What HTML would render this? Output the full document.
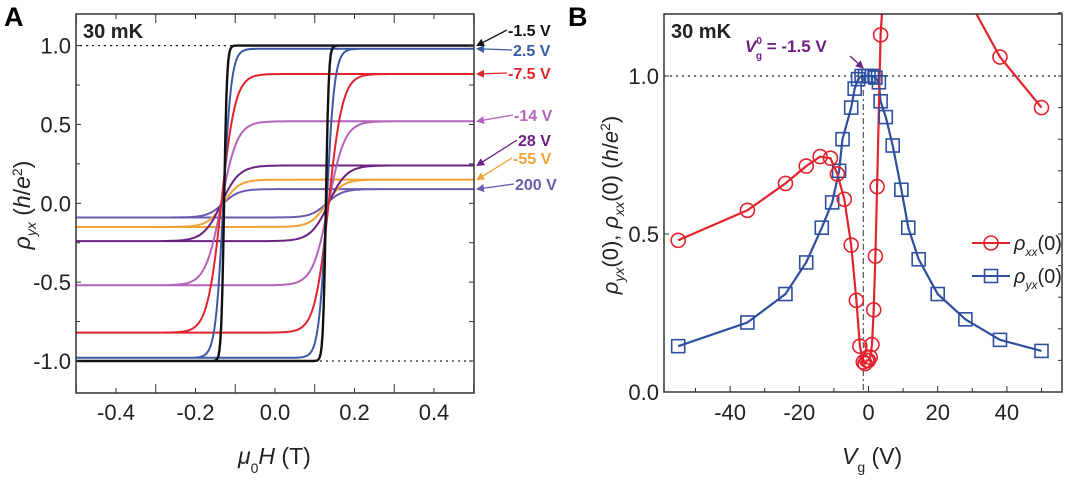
<!DOCTYPE html>
<html><head><meta charset="utf-8">
<style>
html,body{margin:0;padding:0;background:#fff;}
svg{display:block;font-family:"Liberation Sans",Arial,sans-serif;}
</style></head>
<body>
<svg id="fig" width="1080" height="485" viewBox="0 0 1080 485" xmlns="http://www.w3.org/2000/svg">
<defs>
<marker id="ah" markerWidth="8" markerHeight="8" refX="7" refY="4" orient="auto" markerUnits="userSpaceOnUse"><path d="M0,0 L8,4 L0,8 z" fill="context-stroke"/></marker>
</defs>
<g id="panelA"></g>
<g id="panelB"></g>
</svg>
<script>
// ---------- Panel A data ----------
const loopLabels = ["-1.5 V","2.5 V","-7.5 V","-14 V","28 V","-55 V","200 V"];
const loopSat = [1.0, 0.98, 0.82, 0.52, 0.24, 0.15, 0.09];
const loopCoercive = [0.128, 0.13, 0.135, 0.135, 0.135, 0.13, 0.13];
const loopWidth = [0.007, 0.02, 0.035, 0.04, 0.045, 0.04, 0.04];
const loopColors = ["#111111","#3b5aa6","#e1232d","#b462bc","#6b2181","#f0a235","#6a5bb0"];
const aXTicks = [-0.4,-0.2,0.0,0.2,0.4];
const aYTicks = [-1.0,-0.5,0.0,0.5,1.0];
const aLabelY = [30,50,73,115,140,158,184];
const aLabelX = [503,508,503,509,513,508,510];

// ---------- Panel B data ----------
const rxxV = [-55,-35,-24,-18,-14,-11,-9,-7,-5,-3.5,-2.5,-1.5,-1,-0.5,0,0.5,1,1.5,2,2.5,3.5];
const rxxVal = [0.48,0.575,0.66,0.715,0.745,0.74,0.69,0.61,0.465,0.29,0.145,0.095,0.09,0.1,0.1,0.11,0.15,0.26,0.43,0.65,1.13];
const rxxRightV = [38,50];
const rxxRightVal = [1.06,0.9];
const ryxV = [-55,-35,-24,-18,-13.5,-10.5,-8.5,-7.5,-5,-4,-3,-2,-1,0,1,2,3,3.5,5,7,9.5,11.5,14.5,20,28,38,50];
const ryxVal = [0.145,0.22,0.31,0.41,0.52,0.6,0.7,0.8,0.9,0.96,0.99,1,1,1,1,0.995,0.98,0.92,0.87,0.78,0.64,0.52,0.42,0.31,0.23,0.165,0.13];
const bXTicks = [-40,-20,0,20,40];
const bYTicks = [0.0,0.5,1.0];

const NS="http://www.w3.org/2000/svg";
function mk(parent,tag,attrs,text){const e=document.createElementNS(NS,tag);for(const k in attrs)e.setAttribute(k,attrs[k]);if(text!==undefined)e.textContent=text;parent.appendChild(e);return e;}

// ===== Panel A =====
const A=document.getElementById('panelA');
const ax=h=>275+h*397.5, ay=v=>203.3-v*157.7;
mk(A,'text',{x:4,y:26,'font-size':27,'font-weight':'bold',},'A');
let e=mk(A,'line',{x1:80,x2:250,y1:ay(1),y2:ay(1),stroke:'#222','stroke-dasharray':'2,4','stroke-width':1.2});

e=mk(A,'line',{x1:320,x2:472,y1:ay(-1),y2:ay(-1),stroke:'#222','stroke-dasharray':'2,4','stroke-width':1.2});

for(let i=loopSat.length-1;i>=0;i--){
  const s=loopSat[i],hc=loopCoercive[i],w=loopWidth[i];
  let up='',dn='';
  for(let k=0;k<=400;k++){
    const h=-0.5+k/400;
    up+=(k?'L':'M')+ax(h).toFixed(1)+','+ay(s*Math.tanh((h-hc)/w)).toFixed(1);
    dn+=(k?'L':'M')+ax(h).toFixed(1)+','+ay(s*Math.tanh((h+hc)/w)).toFixed(1);
  }
  const p=mk(A,'path',{d:up+dn,fill:'none',stroke:loopColors[i],'stroke-width':i==0?2.4:2});
  
  
  const t=mk(A,'text',{x:aLabelX[i]+5,y:aLabelY[i]+6,'font-size':16,'font-weight':'bold',fill:loopColors[i]},loopLabels[i]);
  
  
  const ar=mk(A,'line',{x1:aLabelX[i]+4,y1:aLabelY[i],x2:477,y2:ay(s),stroke:loopColors[i],'stroke-width':1.3,'marker-end':'url(#ah)'});
  
  
}
e=mk(A,'rect',{x:76,y:14,width:398,height:379,fill:'none',stroke:'#333','stroke-width':1.5});

for(let k=-5;k<=5;k++){const x=ax(k/10);mk(A,'line',{x1:x,x2:x,y1:393,y2:k%2==0?388:384,stroke:'#333'});mk(A,'line',{x1:x,x2:x,y1:14,y2:k%2==0?19:23,stroke:'#333'});}
aXTicks.forEach(v=>{const t=mk(A,'text',{x:ax(v),y:420,'font-size':22,'text-anchor':'middle',fill:'#222'},v.toFixed(1));});
for(let k=-4;k<=4;k++){const y=ay(k/4);mk(A,'line',{x1:76,x2:k%2==0?81:80,y1:y,y2:y,stroke:'#333'});mk(A,'line',{x1:474,x2:469,y1:y,y2:y,stroke:'#333'});}
aYTicks.forEach(v=>{const t=mk(A,'text',{x:71,y:ay(v)+8,'font-size':22,'text-anchor':'end',fill:'#222'},v.toFixed(1));});
e=mk(A,'text',{x:83,y:38,'font-size':20,'font-weight':'bold',fill:'#222'},'30 mK');

e=mk(A,'text',{x:238,y:464,'font-size':23,fill:'#222'});
e.innerHTML='<tspan font-style="italic">μ</tspan><tspan font-size="14" dy="9">0</tspan><tspan dy="-9" font-style="italic">H</tspan> (T)';

e=mk(A,'text',{transform:'translate(30,205) rotate(-90)','font-size':23,'text-anchor':'middle',fill:'#222'});
e.innerHTML='<tspan font-style="italic">ρ</tspan><tspan font-size="14" font-style="italic" dy="6">yx</tspan><tspan dy="-6"> (</tspan><tspan font-style="italic">h</tspan>/<tspan font-style="italic">e</tspan><tspan font-size="14" dy="-8">2</tspan><tspan dy="8">)</tspan>';


// ===== Panel B =====
const B=document.getElementById('panelB');
const bx=v=>868.5+v*3.46, by=v=>392-v*316;
mk(B,'text',{x:568,y:26,'font-size':27,'font-weight':'bold',},'B');
e=mk(B,'line',{x1:664,x2:1062,y1:by(1),y2:by(1),stroke:'#222','stroke-dasharray':'2,4','stroke-width':1.2});

e=mk(B,'line',{x1:bx(-1.5),x2:bx(-1.5),y1:by(1),y2:392,stroke:'#555','stroke-dasharray':'6,3,2,3','stroke-width':1.2});

const clip=mk(B,'clipPath',{id:'cb'});mk(clip,'rect',{x:664,y:14,width:398,height:378});
const G=mk(B,'g',{'clip-path':'url(#cb)'});
function pathOf(xs,ys){return xs.map((v,i)=>(i?'L':'M')+bx(v).toFixed(1)+','+by(ys[i]).toFixed(1)).join('');}
e=mk(G,'path',{d:pathOf(ryxV,ryxVal),fill:'none',stroke:'#2e4f9e','stroke-width':2.2});

e=mk(G,'path',{d:pathOf(rxxV,rxxVal)+'L'+bx(4.2)+','+by(1.25),fill:'none',stroke:'#e1232d','stroke-width':2.2});

e=mk(G,'path',{d:'M'+bx(30)+','+by(1.22)+pathOf(rxxRightV,rxxRightVal).replace('M','L'),fill:'none',stroke:'#e1232d','stroke-width':2.2});

ryxV.forEach((v,i)=>{const r=mk(G,'rect',{x:bx(v)-6.5,y:by(ryxVal[i])-6.5,width:13,height:13,fill:'none',stroke:'#2e4f9e','stroke-width':1.6});});
rxxV.concat(rxxRightV).forEach((v,i)=>{const y=rxxVal.concat(rxxRightVal)[i];const c=mk(G,'circle',{cx:bx(v),cy:by(y),r:7,fill:'none',stroke:'#e1232d','stroke-width':1.6});});
e=mk(B,'rect',{x:664,y:14,width:398,height:378,fill:'none',stroke:'#333','stroke-width':1.5});

for(let k=-5;k<=5;k++){const x=bx(k*10);if(x<664)continue;mk(B,'line',{x1:x,x2:x,y1:392,y2:k%2==0?386:388,stroke:'#333'});}
bXTicks.forEach(v=>{const t=mk(B,'text',{x:bx(v),y:420,'font-size':22,'text-anchor':'middle',fill:'#222'},String(v));});
for(let k=0;k<=12;k++){const y=by(k/10);mk(B,'line',{x1:1062,x2:1058,y1:y,y2:y,stroke:'#333'});if(k%5==0)mk(B,'line',{x1:664,x2:669,y1:y,y2:y,stroke:'#333'});}
bYTicks.forEach(v=>{const t=mk(B,'text',{x:659,y:by(v)+8,'font-size':22,'text-anchor':'end',fill:'#222'},v.toFixed(1));});
e=mk(B,'text',{x:671,y:38,'font-size':20,'font-weight':'bold',fill:'#222'},'30 mK');

e=mk(B,'text',{x:745,y:52,'font-size':17,'font-weight':'bold',fill:'#6b2181'});
e.innerHTML='<tspan font-style="italic">V</tspan><tspan font-size="10" dy="-8">0</tspan><tspan font-size="10" dx="-6" dy="15">g</tspan><tspan dy="-7"> = -1.5 V</tspan>';

e=mk(B,'line',{x1:850,y1:56,x2:863,y2:68,stroke:'#6b2181','stroke-width':1.3,'marker-end':'url(#ah)'});

e=mk(B,'g',{});
mk(e,'line',{x1:972,x2:1010,y1:243,y2:243,stroke:'#e1232d','stroke-width':2});mk(e,'circle',{cx:991,cy:243,r:7,fill:'none',stroke:'#e1232d','stroke-width':1.6});
let t=mk(e,'text',{x:1014,y:250,'font-size':20,fill:'#222'});t.innerHTML='<tspan font-style="italic">ρ</tspan><tspan font-size="12" font-style="italic" dy="6">xx</tspan><tspan dy="-6">(0)</tspan>';
e=mk(B,'g',{});
mk(e,'line',{x1:972,x2:1010,y1:276,y2:276,stroke:'#2e4f9e','stroke-width':2});mk(e,'rect',{x:984.5,y:269.5,width:13,height:13,fill:'none',stroke:'#2e4f9e','stroke-width':1.6});
t=mk(e,'text',{x:1014,y:283,'font-size':20,fill:'#222'});t.innerHTML='<tspan font-style="italic">ρ</tspan><tspan font-size="12" font-style="italic" dy="6">yx</tspan><tspan dy="-6">(0)</tspan>';
e=mk(B,'text',{x:842,y:464,'font-size':23,fill:'#222'});
e.innerHTML='<tspan font-style="italic">V</tspan><tspan font-size="14" dy="8">g</tspan><tspan dy="-8"> (V)</tspan>';

e=mk(B,'text',{transform:'translate(618,205) rotate(-90)','font-size':22,'text-anchor':'middle',fill:'#222'});
e.innerHTML='<tspan font-style="italic">ρ</tspan><tspan font-size="14" font-style="italic" dy="6">yx</tspan><tspan dy="-6">(0), </tspan><tspan font-style="italic">ρ</tspan><tspan font-size="14" font-style="italic" dy="6">xx</tspan><tspan dy="-6">(0) (</tspan><tspan font-style="italic">h</tspan>/<tspan font-style="italic">e</tspan><tspan font-size="14" dy="-8">2</tspan><tspan dy="8">)</tspan>';

</script>
</body></html>
